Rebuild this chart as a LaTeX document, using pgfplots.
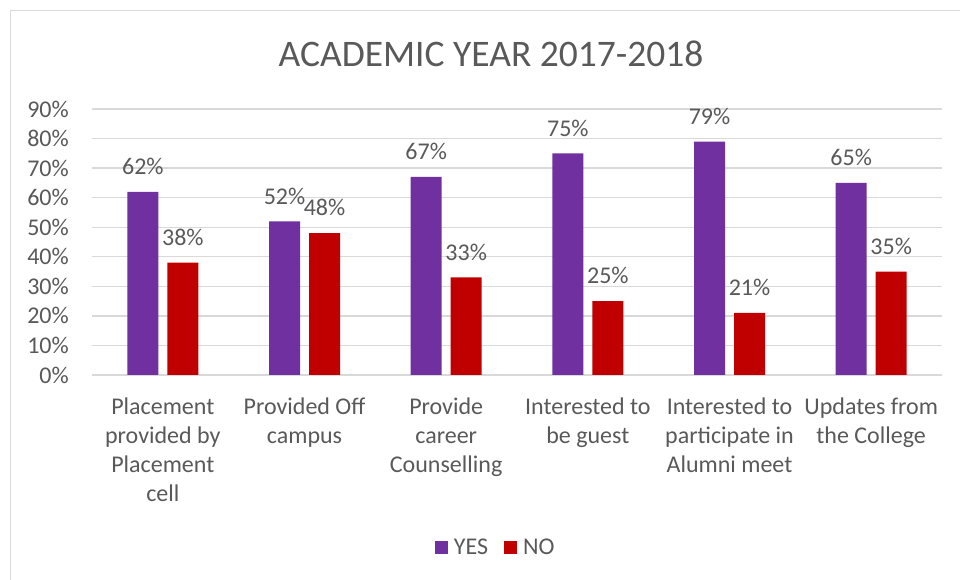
\documentclass[border=0pt]{standalone}
\usepackage{fontspec}
\setmainfont{Carlito}
\usepackage{pgfplots}
\pgfplotsset{compat=1.18}

\definecolor{yescol}{RGB}{112,48,160}
\definecolor{nocol}{RGB}{192,0,0}
\definecolor{gridcol}{RGB}{217,217,217}
\definecolor{txtcol}{RGB}{89,89,89}

\begin{document}
\begin{tikzpicture}[x=1pt,y=1pt]
\path[use as bounding box] (0,0) rectangle (960,580);
\draw[gridcol, line width=1.4pt] (10.5,0) -- (10.5,569.5) -- (960,569.5);
\node[anchor=base, text=txtcol, font=\fontsize{37.5}{44}\selectfont, inner sep=0pt]
  at (491,513) {ACADEMIC YEAR 2017-2018};

\begin{axis}[
  at={(92pt,205pt)}, anchor=south west,
  scale only axis,
  width=850pt, height=266pt,
  xmin=-0.5, xmax=5.5,
  ymin=0, ymax=90,
  ybar=9pt, bar width=31pt,
  axis line style={draw=none},
  major tick style={draw=none},
  ymajorgrids,
  grid style={gridcol, line width=1.3pt},
  ytick={0,10,...,90},
  yticklabel={\pgfmathprintnumber{\tick}\%},
  /pgf/number format/assume math mode=true,
  yticklabel style={font=\fontsize{24}{29}\selectfont, text=txtcol, inner sep=0pt, xshift=-23pt},
  xtick={0,1,2,3,4,5},
  xticklabels={{Placement\\provided by\\Placement\\cell},
               {Provided Off\\campus},
               {Provide\\career\\Counselling},
               {Interested to\\be guest},
               {Interested to\\participate in\\Alumni meet},
               {Updates from\\the College}},
  xticklabel style={font=\fontsize{24}{29}\selectfont, text=txtcol, align=center, inner sep=0pt, yshift=-18pt},
  nodes near coords={\pgfmathprintnumber{\pgfplotspointmeta}\%},
  every node near coord/.append style={font=\fontsize{24}{29}\selectfont, text=txtcol, inner sep=0pt, text depth=0pt, yshift=17pt},
  legend style={at={(0.475,-0.65)}, anchor=center, draw=none, fill=none,
    legend columns=-1, font=\fontsize{24}{29}\selectfont, text=txtcol,
    /tikz/every even column/.append style={column sep=14pt}},
  legend image code/.code={\fill[#1] (0pt,-6.5pt) rectangle (13pt,6.5pt); \path (17pt,0pt);},
]
\addplot[fill=yescol, draw=none] coordinates {(0,62) (1,52) (2,67) (3,75) (4,79) (5,65)};
\addlegendentry{YES}
\addplot[fill=nocol, draw=none] coordinates {(0,38) (1,48) (2,33) (3,25) (4,21) (5,35)};
\addlegendentry{NO}
\end{axis}
\end{tikzpicture}
\end{document}
